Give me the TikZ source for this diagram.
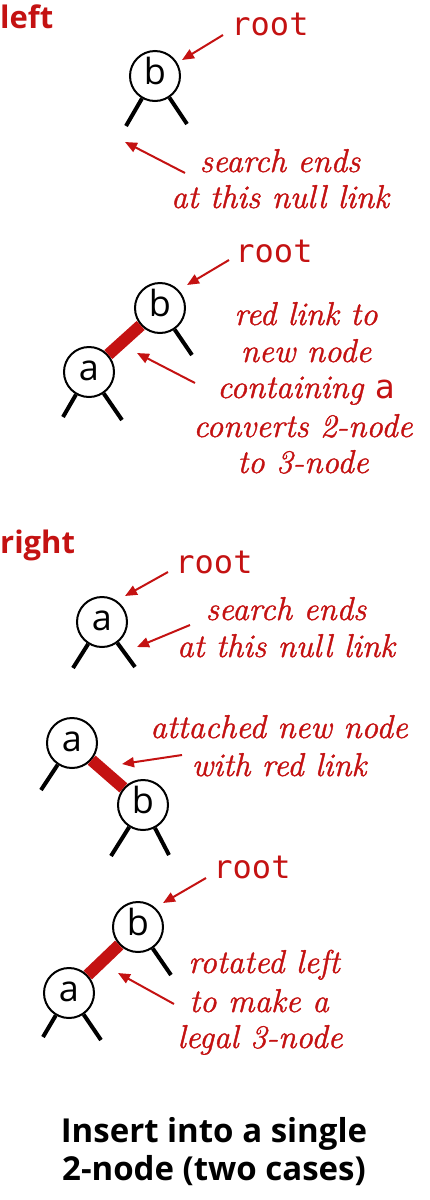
\documentclass[tikz,border=0pt]{standalone}
\usepackage{fontspec}
\newfontfamily\sansf{Open Sans}
\newfontfamily\monof{DejaVu Sans Mono}
\newfontfamily\notef{Latin Modern Roman}[FakeBold=1.2]
\usetikzlibrary{arrows.meta}
\definecolor{bookred}{RGB}{196,18,18}
\begin{document}
\begin{tikzpicture}[x=1pt,y=-1pt,
  tnode/.style={circle, draw, line width=2pt, minimum size=50pt, inner sep=0pt, fill=white,
    text height=16pt, text depth=0pt, font=\sansf\fontsize{36}{36}\selectfont},
  nulllink/.style={line width=4pt},
  redlink/.style={line width=12pt, bookred},
  arr/.style={bookred, line width=2pt, -{Triangle[length=12pt,width=10pt]}},
  note/.style={bookred, font=\notef\itshape\fontsize{33}{36}\selectfont, anchor=base, inner sep=0pt},
  rootlbl/.style={bookred, font=\monof\fontsize{32}{32}\selectfont, anchor=base, inner sep=0pt},
  caselbl/.style={bookred, font=\sansf\bfseries\fontsize{31}{31}\selectfont, anchor=base west, inner sep=0pt},
  captxt/.style={font=\sansf\bfseries\fontsize{33}{33}\selectfont, anchor=base, inner sep=0pt}]
\useasboundingbox (0,0) rectangle (429,1200);

% ---------- left ----------
\node[caselbl] (lefthd) at (0,28) {left};

% section 1
\node[rootlbl] (root1) at (270,35) {root};
\coordinate (bl1) at (126,126);
\coordinate (br1) at (187,124);
\node[tnode] (b1) at (155,76) {b};
\draw[nulllink] (b1) -- (bl1);
\draw[nulllink] (b1) -- (br1);
\coordinate (r1s) at (223,35);
\coordinate (r1e) at (182,60);
\draw[arr] (r1s) -- (r1e);
\node[note] (n1a) at (280,172) {search ends};
\node[note] (n1b) at (280,208) {at this null link};
\coordinate (s1s) at (185,173);
\coordinate (s1e) at (125,142);
\draw[arr] (s1s) -- (s1e);

% section 2
\node[rootlbl] (root2) at (274,262) {root};
\coordinate (br2) at (192,355);
\coordinate (al2) at (63,417);
\coordinate (ar2) at (122,420);
\node[tnode] (b2) at (160,308) {b};
\node[tnode] (a2) at (89,372) {a};
\draw[nulllink] (b2) -- (br2);
\draw[nulllink] (a2) -- (al2);
\draw[nulllink] (a2) -- (ar2);
\draw[redlink] (a2) -- (b2);
\coordinate (r2s) at (229,260);
\coordinate (r2e) at (187,285);
\draw[arr] (r2s) -- (r2e);
\coordinate (l2s) at (195,383);
\coordinate (l2e) at (137,353);
\draw[arr] (l2s) -- (l2e);
\node[note] (n2a) at (306,325) {red link to};
\node[note] (n2b) at (306,362) {new node};
\node[note] (n2c) at (306,398) {containing {\upshape\monof a}};
\node[note] (n2d) at (303,437) {converts 2-node};
\node[note] (n2e) at (303,473) {to 3-node};

% ---------- right ----------
\node[caselbl] (righthd) at (0,553) {right};

% section 3
\node[rootlbl] (root3) at (214,573) {root};
\coordinate (al3) at (73,668);
\coordinate (ar3) at (135,667);
\node[tnode] (a3) at (102,622) {a};
\draw[nulllink] (a3) -- (al3);
\draw[nulllink] (a3) -- (ar3);
\coordinate (r3s) at (168,572);
\coordinate (r3e) at (125,596);
\draw[arr] (r3s) -- (r3e);
\coordinate (s3s) at (190,625);
\coordinate (s3e) at (137,647);
\draw[arr] (s3s) -- (s3e);
\node[note] (n3a) at (286,620) {search ends};
\node[note] (n3b) at (286,657) {at this null link};

% section 4
\coordinate (al4) at (41,790);
\coordinate (bl4) at (111,856);
\coordinate (br4) at (169,855);
\node[tnode] (a4) at (72,743) {a};
\node[tnode] (b4) at (143,805) {b};
\draw[nulllink] (a4) -- (al4);
\draw[nulllink] (b4) -- (bl4);
\draw[nulllink] (b4) -- (br4);
\draw[redlink] (a4) -- (b4);
\coordinate (l4s) at (182,755);
\coordinate (l4e) at (122,764);
\draw[arr] (l4s) -- (l4e);
\node[note] (n4a) at (279,738) {attached new node};
\node[note] (n4b) at (279,776) {with red link};

% section 5
\node[rootlbl] (root5) at (252,878) {root};
\coordinate (br5) at (171,975);
\coordinate (al5) at (43,1037);
\coordinate (ar5) at (101,1040);
\node[tnode] (b5) at (138,927) {b};
\node[tnode] (a5) at (69,993) {a};
\draw[nulllink] (b5) -- (br5);
\draw[nulllink] (a5) -- (al5);
\draw[nulllink] (a5) -- (ar5);
\draw[redlink] (a5) -- (b5);
\coordinate (r5s) at (206,878);
\coordinate (r5e) at (163,903);
\draw[arr] (r5s) -- (r5e);
\coordinate (l5s) at (174,1004);
\coordinate (l5e) at (118,973);
\draw[arr] (l5s) -- (l5e);
\node[note] (n5a) at (264,973) {rotated left};
\node[note] (n5b) at (259,1012) {to make a};
\node[note] (n5c) at (260,1048) {legal 3-node};

% caption
\node[captxt] (cap1) at (214,1142) {Insert into a single};
\node[captxt] (cap2) at (214,1180) {2-node (two cases)};
\end{tikzpicture}
\end{document}
